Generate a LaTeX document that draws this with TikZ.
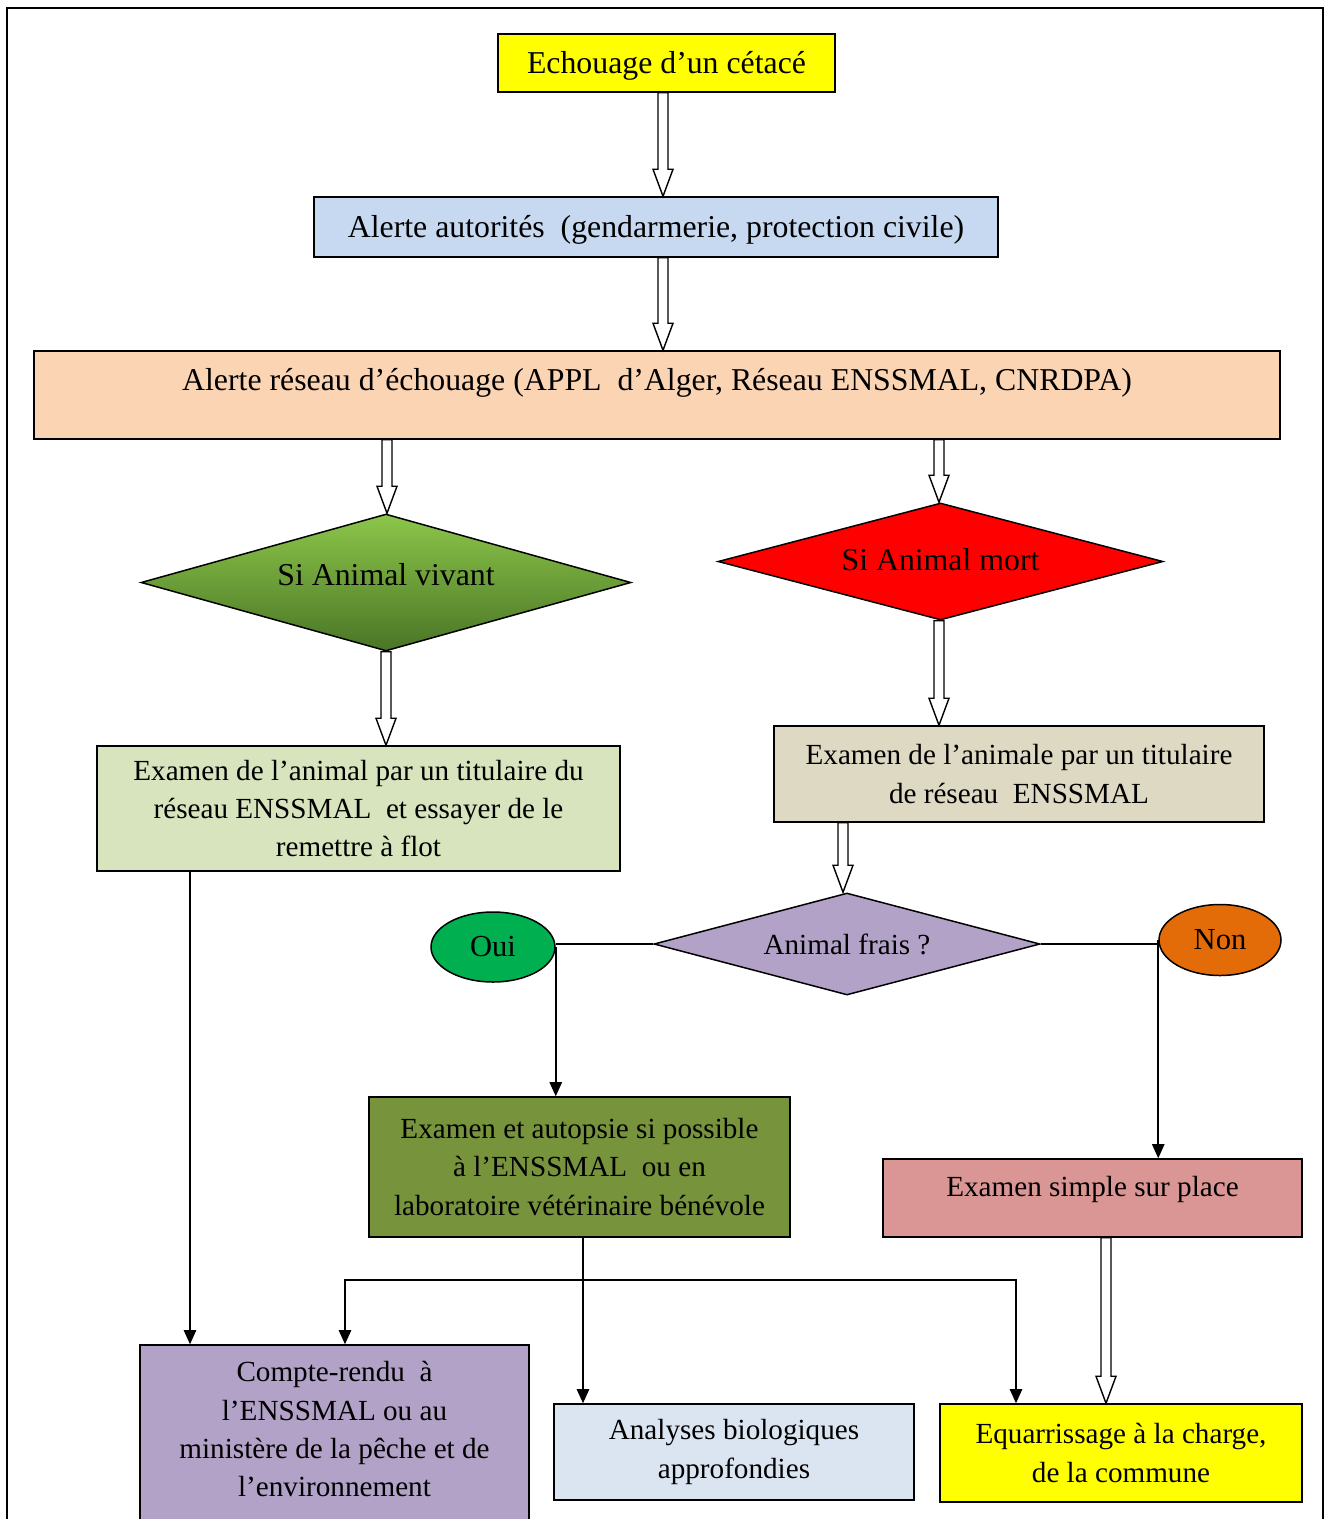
\documentclass[tikz,border=0pt]{standalone}
\usepackage{fontspec}
\setmainfont{Liberation Serif}
\usetikzlibrary{shapes.geometric,arrows.meta,calc}
\newcommand\pxu{0.02cm}
\newcommand\bigf{\fontsize{18.1}{21.9}\selectfont}
\newcommand\smallf{\fontsize{16.6}{21.9}\selectfont}
\newcommand\midf{\fontsize{17.4}{21.9}\selectfont}
\definecolor{cyel}{HTML}{FFFF00}
\definecolor{cblue}{HTML}{C6D9F1}
\definecolor{cpeach}{HTML}{FBD4B4}
\definecolor{cgreenl}{HTML}{D7E4BD}
\definecolor{ctan}{HTML}{DDD9C3}
\definecolor{cpurple}{HTML}{B2A2C7}
\definecolor{cgreen}{HTML}{00B050}
\definecolor{corange}{HTML}{E36C09}
\definecolor{colive}{HTML}{77933C}
\definecolor{cpink}{HTML}{D99694}
\definecolor{cltblue}{HTML}{DBE5F1}
\definecolor{cred}{HTML}{FF0000}
\definecolor{cgtop}{HTML}{8CC64A}
\definecolor{cgbot}{HTML}{4A7526}
\newcommand\harrow[2]{\draw[hollowarr] let \p1=(#1), \p2=(#2) in
  (\x1-0.1cm,\y1) -- (\x1-0.1cm,\y2+0.54cm) -- (\x1-0.2cm,\y2+0.54cm) -- (\x1,\y2)
  -- (\x1+0.2cm,\y2+0.54cm) -- (\x1+0.1cm,\y2+0.54cm) -- (\x1+0.1cm,\y1) -- cycle;}
\begin{document}
\begin{tikzpicture}[x=0.02cm,y=-0.02cm,
  box/.style={draw, line width=0.85pt, rectangle, inner sep=0pt, align=center, font=\bigf},
  dia/.style={draw, line width=0.85pt, diamond, inner sep=0pt, align=center, font=\bigf},
  ell/.style={draw, line width=0.85pt, ellipse, inner sep=0pt, font=\midf},
  hollowarr/.style={draw, fill=white, line width=0.8pt, line join=miter},
  plain/.style={draw, line width=0.9pt},
  conn/.style={draw, line width=0.9pt, -{Triangle[length=8pt,width=7pt]}}]
\useasboundingbox (0,0) rectangle (1327,1519);
\draw[line width=1.1pt] (7,1540) -- (7,8) -- (1323,8) -- (1323,1540);

\node[box, fill=cyel, minimum width=337*\pxu, minimum height=58*\pxu, text height=16pt] (b1) at (666.5,63) {Echouage d’un cétacé};
\node[box, fill=cblue, minimum width=684*\pxu, minimum height=60*\pxu, text height=16pt] (b2) at (656,227) {Alerte autorités\ \ (gendarmerie, protection civile)};
\node[box, fill=cpeach, minimum width=1246*\pxu, minimum height=88*\pxu, text depth=18pt] (b3) at (657,395) {Alerte réseau d’échouage (APPL\ \ d’Alger, Réseau ENSSMAL, CNRDPA)};
\node[dia, aspect=3.58, top color=cgtop, bottom color=cgbot, minimum width=490*\pxu, minimum height=137*\pxu, text depth=9pt] (viv) at (386,582.5) {Si Animal vivant};
\node[dia, aspect=3.8, fill=cred, minimum width=445*\pxu, minimum height=117*\pxu, text depth=2.5pt] (mort) at (940.5,561.5) {Si Animal mort};
\node[box, fill=cgreenl, font=\smallf, minimum width=523*\pxu, minimum height=125*\pxu] (exL) at (358.5,808.5) {Examen de l’animal par un titulaire du\\réseau ENSSMAL\ \ et essayer de le\\remettre à flot};
\node[box, fill=ctan, font=\smallf, minimum width=490*\pxu, minimum height=96*\pxu] (exR) at (1019,774) {Examen de l’animale par un titulaire\\de réseau\ \ ENSSMAL};
\node[dia, aspect=3.78, fill=cpurple, font=\smallf, minimum width=386*\pxu, minimum height=102*\pxu] (frais) at (847,944) {Animal frais ?};
\node[ell, fill=cgreen, minimum width=124*\pxu, minimum height=70*\pxu] (oui) at (493,947) {Oui};
\node[ell, fill=corange, minimum width=122*\pxu, minimum height=71*\pxu] (non) at (1220,940) {Non};
\node[box, fill=colive, font=\smallf, minimum width=421*\pxu, minimum height=140*\pxu] (aut) at (579.5,1167) {Examen et autopsie si possible\\à l’ENSSMAL\ \ ou en\\laboratoire vétérinaire bénévole};
\node[box, fill=cpink, font=\smallf, minimum width=419*\pxu, minimum height=78*\pxu, text depth=13pt] (simp) at (1092.5,1198) {Examen simple sur place};
\node[box, fill=cpurple, font=\smallf, minimum width=389*\pxu, minimum height=184*\pxu, text depth=9pt] (cr) at (334.5,1437) {Compte-rendu\ \ à\\l’ENSSMAL ou au\\ministère de la pêche et de\\l’environnement};
\node[box, fill=cltblue, font=\smallf, minimum width=360*\pxu, minimum height=96*\pxu] (an) at (734,1452) {Analyses biologiques\\approfondies};
\node[box, fill=cyel, font=\smallf, minimum width=362*\pxu, minimum height=98*\pxu] (eq) at (1121,1453) {Equarrissage à la charge,\\de la commune};

\harrow{663,0 |- b1.south}{663,0 |- b2.north}
\harrow{663,0 |- b2.south}{663,0 |- b3.north}
\harrow{387,0 |- b3.south}{387,0 |- viv.north}
\harrow{939,0 |- b3.south}{939,0 |- mort.north}
\harrow{386,0 |- viv.south}{386,0 |- exL.north}
\harrow{939,0 |- mort.south}{939,0 |- exR.north}
\harrow{843,0 |- exR.south}{843,0 |- frais.north}
\harrow{1106,0 |- simp.south}{1106,0 |- eq.north}

\draw[conn] (190,0 |- exL.south) -- (190,0 |- cr.north);
\draw[plain] (frais.west) -- (frais.west -| oui.east);
\draw[conn] (oui.east) -- (oui.east |- aut.north);
\draw[plain] (frais.east) -- (frais.east -| non.west);
\draw[conn] (non.west) -- (non.west |- simp.north);
\coordinate (j) at (583,1280);
\draw[conn] (583,0 |- aut.south) -- (583,0 |- an.north);
\draw[conn] (j) -| (345,0 |- cr.north);
\draw[conn] (j) -| (1016,0 |- eq.north);
\end{tikzpicture}
\end{document}
